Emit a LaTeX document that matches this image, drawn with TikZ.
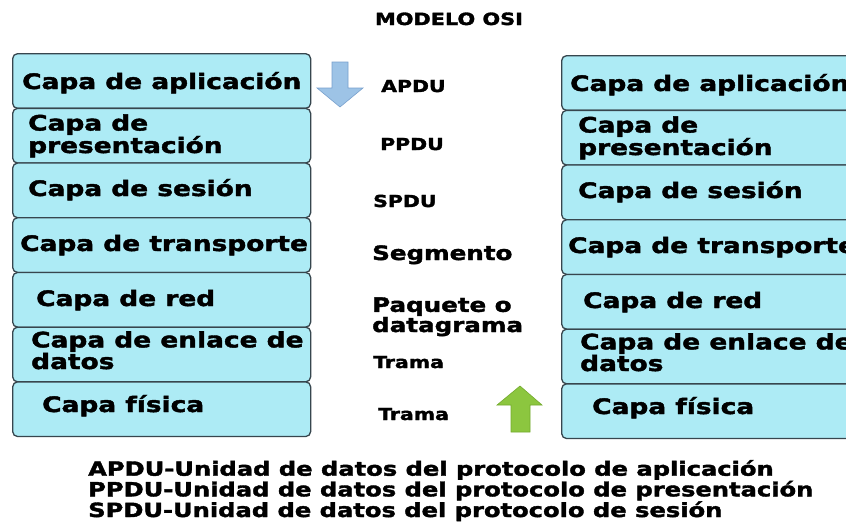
\documentclass[tikz,border=0pt]{standalone}
\usepackage{fontspec}
\newfontfamily\blk{DejaVu Sans}[FakeStretch=1.24, FakeBold=1.9]
\newcommand\myfs[2]{\fontsize{#1}{#2}\selectfont}
\definecolor{boxfill}{RGB}{173,235,245}
\definecolor{boxline}{RGB}{55,70,78}
\definecolor{bluefill}{RGB}{157,195,230}
\definecolor{blueline}{RGB}{120,160,205}
\definecolor{greenfill}{RGB}{140,198,63}
\definecolor{greenline}{RGB}{115,170,45}
\begin{document}
\begin{tikzpicture}[x=1pt,y=-1pt,
  layer/.style={draw=boxline, fill=boxfill, line width=1.3pt, rounded corners=5pt,
    minimum width=298pt, minimum height=54.7pt, inner sep=0pt, anchor=north west},
  lbl/.style={anchor=base west, inner sep=0pt, align=left, font=\blk\bfseries\myfs{21.3}{18.5}},
  pdu/.style={anchor=base west, inner sep=0pt, align=left, font=\blk\bfseries\myfs{16.5}{17}},
  pdubig/.style={anchor=base west, inner sep=0pt, align=left, font=\blk\bfseries\myfs{19.8}{18}},
  legend/.style={anchor=base west, inner sep=0pt, align=left, font=\blk\bfseries\myfs{19.5}{18}},
  downarrow/.style={fill=bluefill, draw=blueline, line width=0.6pt},
  uparrow/.style={fill=greenfill, draw=greenline, line width=0.6pt}]
\useasboundingbox (0,0) rectangle (846,523);
\clip (0,0) rectangle (846,523);
\fill[white] (0,0) rectangle (846,523);

\node[anchor=base, inner sep=0pt, font=\blk\bfseries\myfs{16.8}{18}] (title) at (449,25) {MODELO OSI};

% left stack
\foreach \i/\nm in {0/La,1/Lp,2/Ls,3/Lt,4/Lr,5/Le,6/Lf}{
  \node[layer] (\nm) at (12,{53+\i*54.7}) {};
}
% right stack
\foreach \i/\nm in {0/Ra,1/Rp,2/Rs,3/Rt,4/Rr,5/Re,6/Rf}{
  \node[layer] (\nm) at (561,{55+\i*54.7}) {};
}

% left labels (base = last line baseline)
\node[lbl] (tLa) at (22,89) {Capa de aplicación};
\node[lbl] (tLp) at (28,153) {Capa de\\presentación};
\node[lbl] (tLs) at (28,196) {Capa de sesión};
\node[lbl] (tLt) at (20,251) {Capa de transporte};
\node[lbl] (tLr) at (36,306) {Capa de red};
\node[lbl] (tLe) at (31,369) {Capa de enlace de\\datos};
\node[lbl] (tLf) at (42,412) {Capa física};

% right labels
\node[lbl] (tRa) at (570,91) {Capa de aplicación};
\node[lbl] (tRp) at (578,155) {Capa de\\presentación};
\node[lbl] (tRs) at (578,198) {Capa de sesión};
\node[lbl] (tRt) at (568,253) {Capa de transporte};
\node[lbl] (tRr) at (583,308) {Capa de red};
\node[lbl] (tRe) at (580,371) {Capa de enlace de\\datos};
\node[lbl] (tRf) at (592,414) {Capa física};

% PDU labels
\node[pdu] (apdu) at (381,92) {APDU};
\node[pdu] (ppdu) at (380,150) {PPDU};
\node[pdu] (spdu) at (373,207) {SPDU};
\node[pdubig] (seg) at (372,260) {Segmento};
\node[pdubig] (paq) at (372,332) {Paquete o\\datagrama};
\node[pdu] (trama1) at (373,368) {Trama};
\node[pdu] (trama2) at (378,420) {Trama};

% arrows
\draw[downarrow] (332,62) -- (348,62) -- (348,88) -- (363,88) -- (340,107)
  -- (317,88) -- (332,88) -- cycle;
\draw[uparrow] (511,432) -- (530,432) -- (530,405) -- (542,405) -- (520,386)
  -- (497,405) -- (511,405) -- cycle;

% legend
\node[legend] (leg) at (88,517) {APDU-Unidad de datos del protocolo de aplicación\\
PPDU-Unidad de datos del protocolo de presentación\\
SPDU-Unidad de datos del protocolo de sesión};
\end{tikzpicture}
\end{document}
